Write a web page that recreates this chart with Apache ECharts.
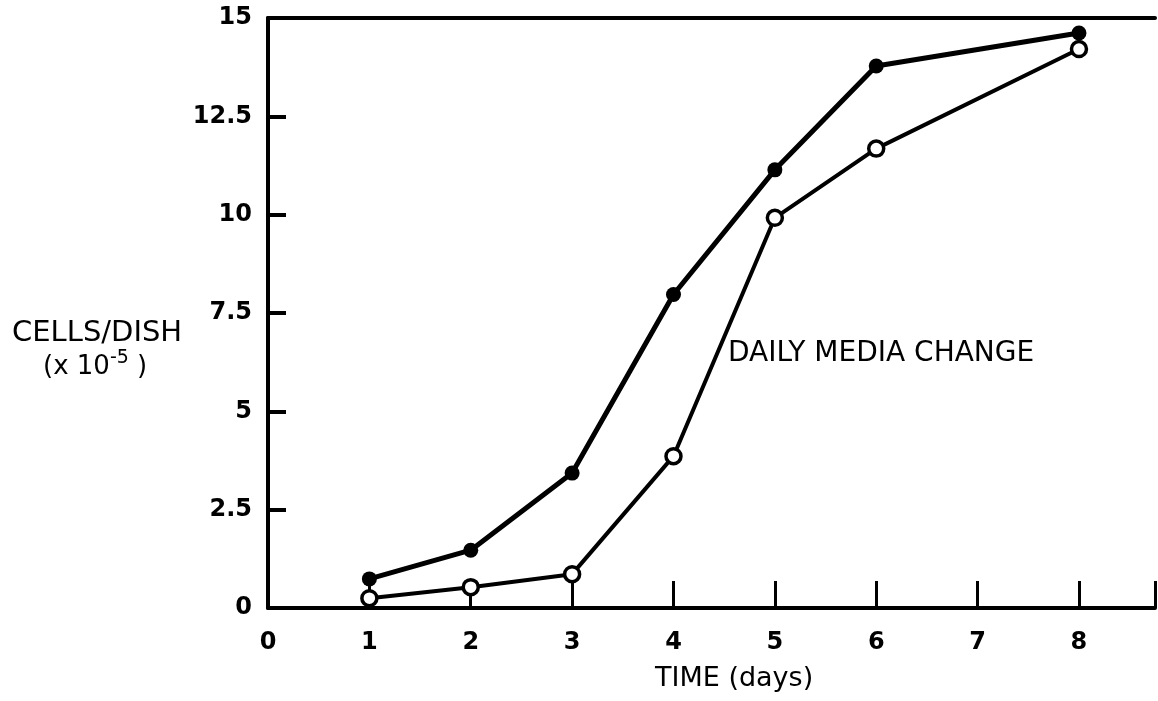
<!DOCTYPE html>
<html>
<head>
<meta charset="utf-8">
<script src="https://cdn.jsdelivr.net/npm/echarts@6/dist/echarts.min.js"></script>
<style>
html,body{margin:0;padding:0;background:#fff;}
#chart{width:1158px;height:701px;}
</style>
</head>
<body>
<div id="chart"></div>
<script>
const days = [1, 2, 3, 4, 5, 6, 8];
const filledValues = [0.74, 1.47, 3.43, 7.97, 11.14, 13.78, 14.62];
const openValues = [0.25, 0.53, 0.86, 3.86, 9.92, 11.68, 14.21];
const yTicks = [0, 2.5, 5, 7.5, 10, 12.5, 15];
const xTickLabels = ['0', '1', '2', '3', '4', '5', '6', '7', '8'];

const filledData = days.map((d, i) => [d, filledValues[i]]);
const openData = days.map((d, i) => [d, openValues[i]]);

const chart = echarts.init(document.getElementById('chart'));
const numFont = { fontFamily: 'DejaVu Sans', fontWeight: 'bold', fontSize: 24, color: '#000' };

chart.setOption({
  backgroundColor: '#fff',
  animation: false,
  grid: { left: 268, top: 18, right: 1, bottom: 93 },
  xAxis: [{
    type: 'value', min: 0, max: 8.75, interval: 1,
    axisLine: { lineStyle: { color: '#000', width: 4 } },
    axisTick: { show: true, inside: true, length: 27, lineStyle: { color: '#000', width: 3 } },
    splitLine: { show: false },
    axisLabel: Object.assign({ margin: 23, formatter: v => Number.isInteger(v) ? xTickLabels[v] : '' }, numFont)
  }, {
    type: 'value', position: 'top', min: 0, max: 8.75,
    axisLine: { show: true, lineStyle: { color: '#000', width: 4 } },
    axisTick: { show: false }, axisLabel: { show: false }, splitLine: { show: false }
  }],
  yAxis: {
    type: 'value', min: 0, max: 15, interval: 2.5,
    axisLine: { show: true, lineStyle: { color: '#000', width: 4 } },
    axisTick: { show: true, inside: true, length: 18, lineStyle: { color: '#000', width: 4 } },
    splitLine: { show: false },
    axisLabel: Object.assign({ margin: 16, formatter: v => yTicks.includes(v) ? String(v) : '' }, numFont)
  },
  graphic: [
    { type: 'text', left: 12, top: 319, style: { text: 'CELLS/DISH', fontFamily: 'DejaVu Sans', fontSize: 29, fill: '#000' } },
    { type: 'text', left: 43, top: 349, style: {
      text: '{a|(x 10}{s|-5}{a| )}',
      rich: {
        a: { fontFamily: 'DejaVu Sans', fontSize: 26, fill: '#000', verticalAlign: 'bottom' },
        s: { fontFamily: 'DejaVu Sans', fontSize: 19, fill: '#000', verticalAlign: 'top', padding: [0, 0, 12, 0] }
      } } },
    { type: 'text', left: 728, top: 340, style: { text: 'DAILY MEDIA CHANGE', fontFamily: 'DejaVu Sans', fontSize: 28, fill: '#000' } },
    { type: 'text', left: 655, top: 665, style: { text: 'TIME (days)', fontFamily: 'DejaVu Sans', fontSize: 27, fill: '#000' } }
  ],
  series: [{
    name: 'filled', type: 'line', data: filledData,
    symbol: 'circle', symbolSize: 15,
    lineStyle: { color: '#000', width: 5 },
    itemStyle: { color: '#000' }, z: 3
  }, {
    name: 'open', type: 'line', data: openData,
    symbol: 'circle', symbolSize: 15,
    lineStyle: { color: '#000', width: 4 },
    itemStyle: { color: '#fff', borderColor: '#000', borderWidth: 3.5 }, z: 4
  }]
});
</script>
</body>
</html>
